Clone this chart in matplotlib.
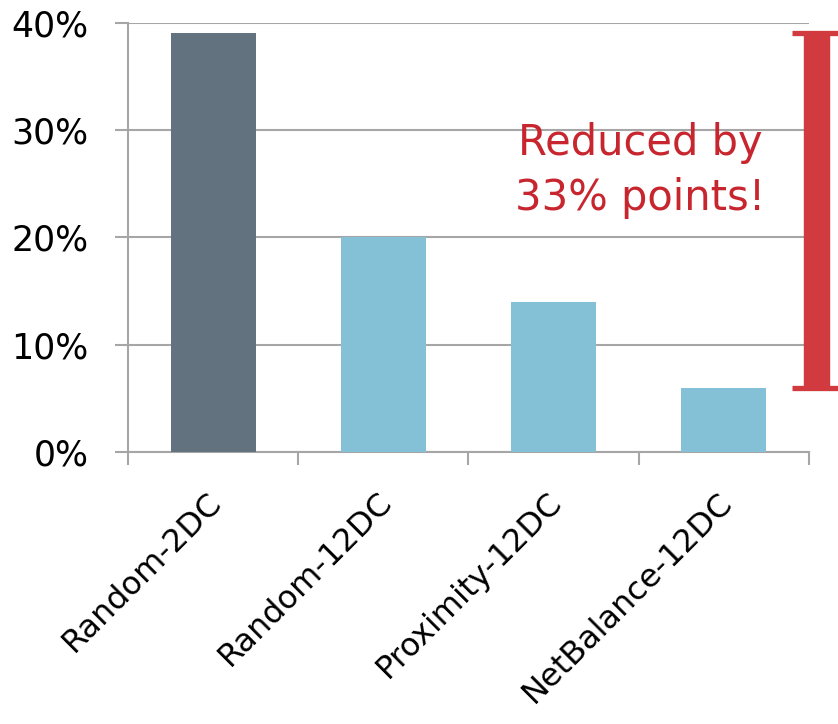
import numpy as np
import matplotlib.pyplot as plt
import matplotlib.transforms as mtransforms
from matplotlib.ticker import PercentFormatter

categories = ['Random-2DC', 'Random-12DC', 'Proximity-12DC', 'NetBalance-12DC']
values = [0.39, 0.20, 0.14, 0.06]
bar_colors = ['#62737F', '#84C1D6', '#84C1D6', '#84C1D6']
yticks = [0.0, 0.1, 0.2, 0.3, 0.4]
note = 'Reduced by\n33% points!'

grey = '#A6A6A6'
red = '#D13A3F'

plt.rcParams['font.family'] = ['DejaVu Sans']
fig = plt.figure(figsize=(8.38, 7.24), dpi=100)
ax = fig.add_axes([0.1527, 0.3757, 0.8127, 0.5929])

x = np.arange(len(categories))
ax.bar(x, values, width=0.5, color=bar_colors, zorder=3)

ax.set_xlim(-0.5, len(categories) - 0.5)
ax.set_ylim(0, 0.40)
ax.set_yticks(yticks)
ax.yaxis.set_major_formatter(PercentFormatter(1.0, decimals=0))
ax.grid(axis='y', color=grey, linewidth=1.5, zorder=0)

for s in ['top', 'right']:
    ax.spines[s].set_visible(False)
for s in ['left', 'bottom']:
    ax.spines[s].set_color(grey)
    ax.spines[s].set_linewidth(1.5)

ax.tick_params(axis='y', length=9.5, width=1.5, color=grey, labelsize=25, pad=19)
ax.set_xticks(x)
ax.set_xticklabels(categories, rotation=45, ha='right', fontsize=23)
ax.tick_params(axis='x', which='major', length=0, pad=25)
ax.set_xticks(np.arange(-0.5, len(categories)), minor=True)
ax.tick_params(axis='x', which='minor', length=9.5, width=1.5, color=grey)
shift = mtransforms.ScaledTranslation(11 / 72, 0, fig.dpi_scale_trans)
for lbl in ax.get_xticklabels():
    lbl.set_transform(lbl.get_transform() + shift)

# red bracket showing the drop from the first to the last bar
bx = 3.547
ax.vlines(bx, values[-1], values[0], color=red, linewidth=19, clip_on=False, zorder=4)
ax.hlines([values[0], values[-1]], bx - 0.145, bx + 0.15, color=red, linewidth=3.8,
          clip_on=False, zorder=4)

ax.text(2.507, 0.262, note, color='#C8262F', fontsize=30, ha='center', va='center',
        linespacing=1.4, zorder=5)

fig.savefig('out.png', dpi=100)
